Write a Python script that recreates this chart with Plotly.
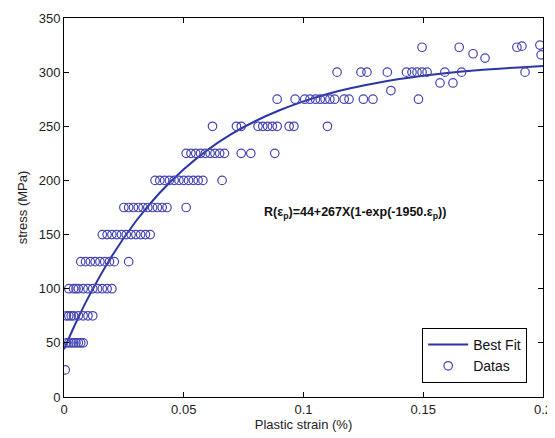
import plotly.graph_objects as go

# Best-fit curve values
fit_strain = [0.0, 0.005, 0.01, 0.02, 0.03, 0.04, 0.05, 0.06, 0.07, 0.08, 0.09, 0.10,
              0.11, 0.12, 0.13, 0.14, 0.15, 0.16, 0.17, 0.18, 0.19, 0.20]
fit_stress = [44, 68.8, 91.3, 130.2, 162.3, 188.6, 210.3, 228.2, 242.9, 254.9, 264.8, 273,
              279.8, 285.3, 289.8, 293.6, 296.7, 299.2, 301.3, 303.0, 304.4, 305.6]

# Measured data, grouped by stress level (strain values)
s25 = [0.0005]
s50 = [0.001, 0.002, 0.003, 0.004, 0.005, 0.006, 0.007, 0.008]
s75 = [0.001, 0.002, 0.003, 0.004, 0.006, 0.008, 0.010, 0.012]
s100 = [0.002, 0.004, 0.005, 0.006, 0.008, 0.010, 0.012, 0.014, 0.016, 0.018, 0.020]
s125 = [0.007, 0.009, 0.011, 0.013, 0.015, 0.017, 0.019, 0.021, 0.027]
s150 = [0.016, 0.018, 0.020, 0.022, 0.024, 0.026, 0.028, 0.030, 0.032, 0.034, 0.036]
s175 = [0.025, 0.027, 0.029, 0.031, 0.033, 0.035, 0.037, 0.039, 0.041, 0.043, 0.051]
s200 = [0.038, 0.040, 0.042, 0.044, 0.046, 0.048, 0.050, 0.052, 0.054, 0.056, 0.058, 0.066]
s225 = [0.051, 0.053, 0.055, 0.057, 0.059, 0.061, 0.063, 0.065, 0.067, 0.074, 0.078, 0.088]
s250 = [0.062, 0.072, 0.074, 0.081, 0.083, 0.085, 0.087, 0.089, 0.094, 0.096, 0.110]
s275 = [0.089, 0.0965, 0.1005, 0.1027, 0.105, 0.107, 0.109, 0.111, 0.113, 0.117, 0.119,
        0.125, 0.129, 0.148]
s300 = [0.114, 0.124, 0.1265, 0.135, 0.143, 0.1453, 0.1474, 0.1495, 0.1516, 0.159, 0.166, 0.1925]
extra_strain = [0.1365, 0.157, 0.1624, 0.1495, 0.165, 0.1708, 0.1758, 0.1891, 0.1912, 0.1987, 0.1992]
extra_stress = [283, 290, 290, 323, 323, 317, 313, 323, 324, 325, 316]

levels = [(25, s25), (50, s50), (75, s75), (100, s100), (125, s125), (150, s150),
          (175, s175), (200, s200), (225, s225), (250, s250), (275, s275), (300, s300)]
data_x, data_y = [], []
for lev, xs in levels:
    data_x += xs
    data_y += [lev] * len(xs)
data_x += extra_strain
data_y += extra_stress

x_ticks = [0, 0.05, 0.1, 0.15, 0.2]
x_ticklabels = ["0", "0.05", "0.1", "0.15", "0.2"]
y_ticks = [0, 50, 100, 150, 200, 250, 300, 350]

FONT = "Liberation Sans, Arial"

fig = go.Figure()
fig.add_trace(go.Scatter(x=fit_strain, y=fit_stress, mode="lines", name="Best Fit",
                         line=dict(color="#2b36a3", width=2), line_shape="spline"))
fig.add_trace(go.Scatter(x=data_x, y=data_y, mode="markers", name="Datas",
                         marker=dict(symbol="circle-open", size=8.5,
                                     color="#4545b5", line=dict(width=1.2, color="#4545b5"))))

fig.add_annotation(x=0.1215, y=170, xref="x", yref="y", showarrow=False,
                   text="<b>R(ε<sub>p</sub>)=44+267X(1-exp(-1950.ε<sub>p</sub>))</b>",
                   font=dict(family=FONT, size=12.5, color="#111"))

axis_common = dict(showline=True, mirror="ticks", linecolor="black", linewidth=1,
                   ticks="inside", ticklen=5, tickcolor="black", showgrid=False,
                   zeroline=False, automargin=False,
                   tickfont=dict(family=FONT, size=13, color="#222"))
fig.update_xaxes(range=[0, 0.2], tickvals=x_ticks, ticktext=x_ticklabels,
                 title=dict(text="Plastic strain (%)", standoff=0,
                            font=dict(family=FONT, size=13, color="#222")),
                 **axis_common)
fig.update_yaxes(range=[0, 350], tickvals=y_ticks,
                 title=dict(text="stress (MPa)", standoff=8,
                            font=dict(family=FONT, size=13, color="#222")),
                 **axis_common)

# page body has an 8px default margin, so the figure is offset by 8px
fig.update_layout(width=547, height=430, margin=dict(l=56, r=12, t=10, b=41),
                  plot_bgcolor="white", paper_bgcolor="white",
                  legend=dict(x=0.967, y=0.037, xanchor="right", yanchor="bottom",
                              bordercolor="black", borderwidth=1, bgcolor="white",
                              font=dict(family=FONT, size=14, color="#111"),
                              tracegroupgap=0, itemwidth=40))

fig.write_html("out.html")
